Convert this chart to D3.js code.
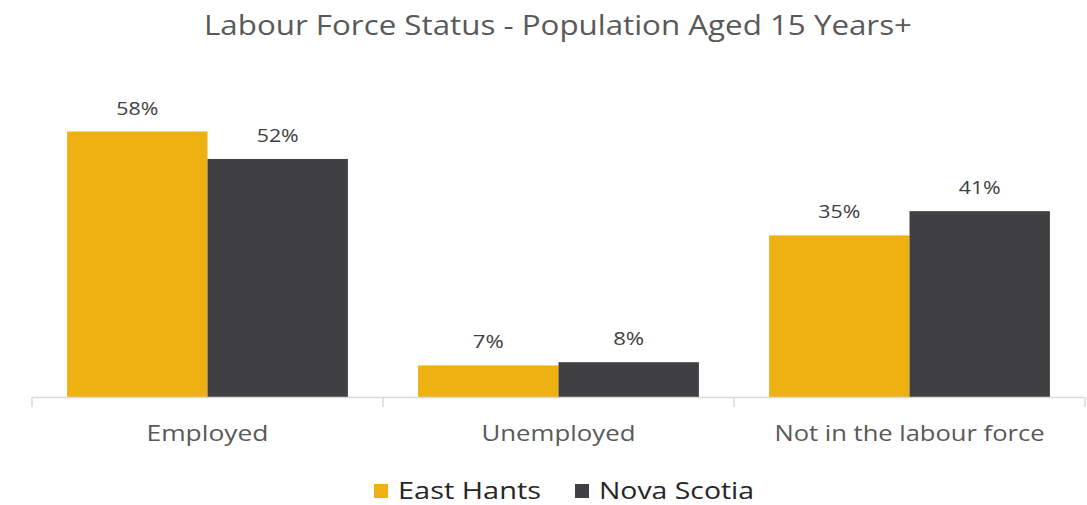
<!DOCTYPE html>
<html>
<head>
<meta charset="utf-8">
<script src="https://cdn.jsdelivr.net/npm/d3@7"></script>
<style>
  body { margin: 0; background: #fff; }
  svg { font-family: "Open Sans", "Noto Sans", sans-serif; }
</style>
</head>
<body>
<svg id="chart" width="1087" height="505"></svg>
<script>
const categories = ['Employed', 'Unemployed', 'Not in the labour force'];
const seriesNames = ['East Hants', 'Nova Scotia'];
const eastHants = [58.0, 6.9, 35.3];
const novaScotia = [52.0, 7.6, 40.6];
const colors = ['#EFB112', '#404042'];

const catWidths = [122, 154, 270];
const legendWidths = [143, 155];

const svg = d3.select('#chart');
const margin = {left: 32, right: 2, baseline: 397};
const width = 1087;

const x = d3.scaleBand()
  .domain(categories)
  .range([margin.left, width - margin.right])
  .paddingInner(0.2)
  .paddingOuter(0.1);

const xs = d3.scaleBand()
  .domain(seriesNames)
  .range([0, x.bandwidth()]);

const y = d3.scaleLinear()
  .domain([0, 58])
  .range([margin.baseline, margin.baseline - 265.5]);

// title
svg.append('text')
  .attr('x', 558)
  .attr('y', 35)
  .attr('text-anchor', 'middle')
  .attr('textLength', 708)
  .attr('lengthAdjust', 'spacingAndGlyphs')
  .style('font-size', '27px')
  .style('fill', '#595959')
  .text('Labour Force Status - Population Aged 15 Years+');

const rows = categories.map((c, i) => ({cat: c, values: [eastHants[i], novaScotia[i]]}));

const groups = svg.selectAll('.grp')
  .data(rows)
  .enter().append('g')
  .attr('transform', d => 'translate(' + x(d.cat) + ',0)');

groups.selectAll('rect')
  .data(d => d.values.map((v, j) => ({name: seriesNames[j], v: v, color: colors[j]})))
  .enter().append('rect')
  .attr('x', d => xs(d.name))
  .attr('y', d => y(d.v))
  .attr('width', xs.bandwidth())
  .attr('height', d => y(0) - y(d.v))
  .style('fill', d => d.color);

groups.selectAll('.lbl')
  .data(d => d.values.map((v, j) => ({name: seriesNames[j], v: v})))
  .enter().append('text')
  .attr('x', d => xs(d.name) + xs.bandwidth() / 2)
  .attr('y', d => y(d.v) - 17)
  .attr('text-anchor', 'middle')
  .attr('textLength', d => Math.round(d.v) >= 10 ? 42 : 31)
  .attr('lengthAdjust', 'spacingAndGlyphs')
  .style('font-size', '19px')
  .style('fill', '#404040')
  .text(d => Math.round(d.v) + '%');

// axis
const step = x.step();
const tickXs = [margin.left].concat(categories.map(c => x(c) - step * 0.1 + step));
svg.append('line')
  .attr('x1', margin.left).attr('x2', width - margin.right)
  .attr('y1', margin.baseline + 0.5).attr('y2', margin.baseline + 0.5)
  .style('stroke', '#d9d9d9').style('stroke-width', 1.5);
svg.selectAll('.tick')
  .data(tickXs)
  .enter().append('line')
  .attr('x1', d => d).attr('x2', d => d)
  .attr('y1', margin.baseline).attr('y2', margin.baseline + 10)
  .style('stroke', '#d9d9d9').style('stroke-width', 1.5);

svg.selectAll('.cat')
  .data(categories)
  .enter().append('text')
  .attr('x', d => x(d) + x.bandwidth() / 2)
  .attr('y', 441)
  .attr('text-anchor', 'middle')
  .attr('textLength', (d, i) => catWidths[i])
  .attr('lengthAdjust', 'spacingAndGlyphs')
  .style('font-size', '21px')
  .style('fill', '#595959')
  .text(d => d);

// legend
const legendX = [374, 575];
seriesNames.forEach((name, i) => {
  svg.append('rect')
    .attr('x', legendX[i]).attr('y', 484)
    .attr('width', 14).attr('height', 14)
    .style('fill', colors[i]);
  svg.append('text')
    .attr('x', legendX[i] + 24).attr('y', 499)
    .attr('textLength', legendWidths[i])
    .attr('lengthAdjust', 'spacingAndGlyphs')
    .style('font-size', '23px')
    .style('fill', '#262626')
    .text(name);
});
</script>
</body>
</html>
